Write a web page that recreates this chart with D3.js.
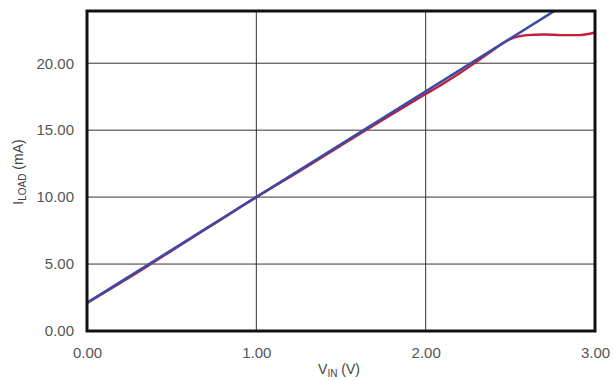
<!DOCTYPE html>
<html><head><meta charset="utf-8">
<script src="https://cdn.jsdelivr.net/npm/d3@7"></script>
<style>body{margin:0;background:#fff}svg{display:block}text{font-family:"Liberation Sans",Arial,sans-serif}</style>
</head><body><svg id="c" width="613" height="380"></svg>
<script>
const xTicks = [0, 1, 2, 3];
const yTicks = [0, 5, 10, 15, 20];
const measuredV = [0, 0.25, 0.5, 0.75, 1.0, 1.25, 1.5, 1.75, 2.0, 2.1, 2.2, 2.3, 2.4, 2.45, 2.5, 2.55, 2.6, 2.7, 2.8, 2.9, 3.0];
const measuredI = [2.1, 4.0, 6.0, 8.0, 10.0, 11.9, 13.85, 15.8, 17.7, 18.45, 19.25, 20.1, 21.0, 21.45, 21.8, 22.0, 22.1, 22.15, 22.1, 22.1, 22.3];
const idealV = [0, 2.76];
const idealI = [2.1, 23.9];

const svg = d3.select("#c");
const m = {l: 87, r: 595, t: 11, b: 331};
const x = d3.scaleLinear().domain([0, 3]).range([m.l, m.r]);
const y = d3.scaleLinear().domain([0, 23.9]).range([m.b, m.t]);

svg.append("defs").append("clipPath").attr("id","pc")
  .append("rect").attr("x",m.l).attr("y",m.t).attr("width",m.r-m.l).attr("height",m.b-m.t);

// grid
svg.append("g").selectAll("line").data(xTicks.slice(1,-1)).join("line")
  .attr("x1",d=>x(d)).attr("x2",d=>x(d)).attr("y1",m.t).attr("y2",m.b)
  .attr("stroke","#333").attr("stroke-width",1);
svg.append("g").selectAll("line").data(yTicks.slice(1)).join("line")
  .attr("x1",m.l).attr("x2",m.r).attr("y1",d=>y(d)).attr("y2",d=>y(d))
  .attr("stroke","#333").attr("stroke-width",1);

const line = d3.line().x(d=>x(d[0])).y(d=>y(d[1])).curve(d3.curveMonotoneX);
const g = svg.append("g").attr("clip-path","url(#pc)");
g.append("path").datum(measuredV.map((v,i)=>[v,measuredI[i]]))
  .attr("d",line).attr("fill","none").attr("stroke","#c0203a").attr("stroke-width",2.4);
g.append("path").datum(idealV.map((v,i)=>[v,idealI[i]]))
  .attr("d",d3.line().x(d=>x(d[0])).y(d=>y(d[1]))).attr("fill","none").attr("stroke","#3d4aa3").attr("stroke-width",2.6);

// frame
svg.append("rect").attr("x",m.l).attr("y",m.t).attr("width",m.r-m.l).attr("height",m.b-m.t)
  .attr("fill","none").attr("stroke","#111").attr("stroke-width",3);

// axes labels
const xa = svg.append("g").attr("transform",`translate(0,${m.b+13})`)
  .call(d3.axisBottom(x).tickValues(xTicks).tickFormat(d3.format(".2f")).tickSize(0));
xa.select(".domain").remove();
xa.selectAll("text").attr("font-size",15).attr("fill","#555").attr("font-family","Liberation Sans, Arial, sans-serif");
const ya = svg.append("g").attr("transform",`translate(${m.l-10},0)`)
  .call(d3.axisLeft(y).tickValues(yTicks).tickFormat(d3.format(".2f")).tickSize(0));
ya.select(".domain").remove();
ya.selectAll("text").attr("font-size",15).attr("fill","#555").attr("font-family","Liberation Sans, Arial, sans-serif");

const xt = svg.append("text").attr("x",(m.l+m.r)/2 - 2).attr("y",374).attr("text-anchor","middle")
  .attr("font-size",14).attr("fill","#444");
xt.append("tspan").text("V");
xt.append("tspan").text("IN").attr("font-size",10).attr("dy",3);
xt.append("tspan").text(" (V)").attr("dy",-3);

const yt = svg.append("text").attr("transform",`translate(23,172) rotate(-90)`)
  .attr("text-anchor","middle").attr("font-size",14).attr("fill","#444");
yt.append("tspan").text("I");
yt.append("tspan").text("LOAD").attr("font-size",10).attr("dy",3);
yt.append("tspan").text(" (mA)").attr("dy",-3);
</script></body></html>
